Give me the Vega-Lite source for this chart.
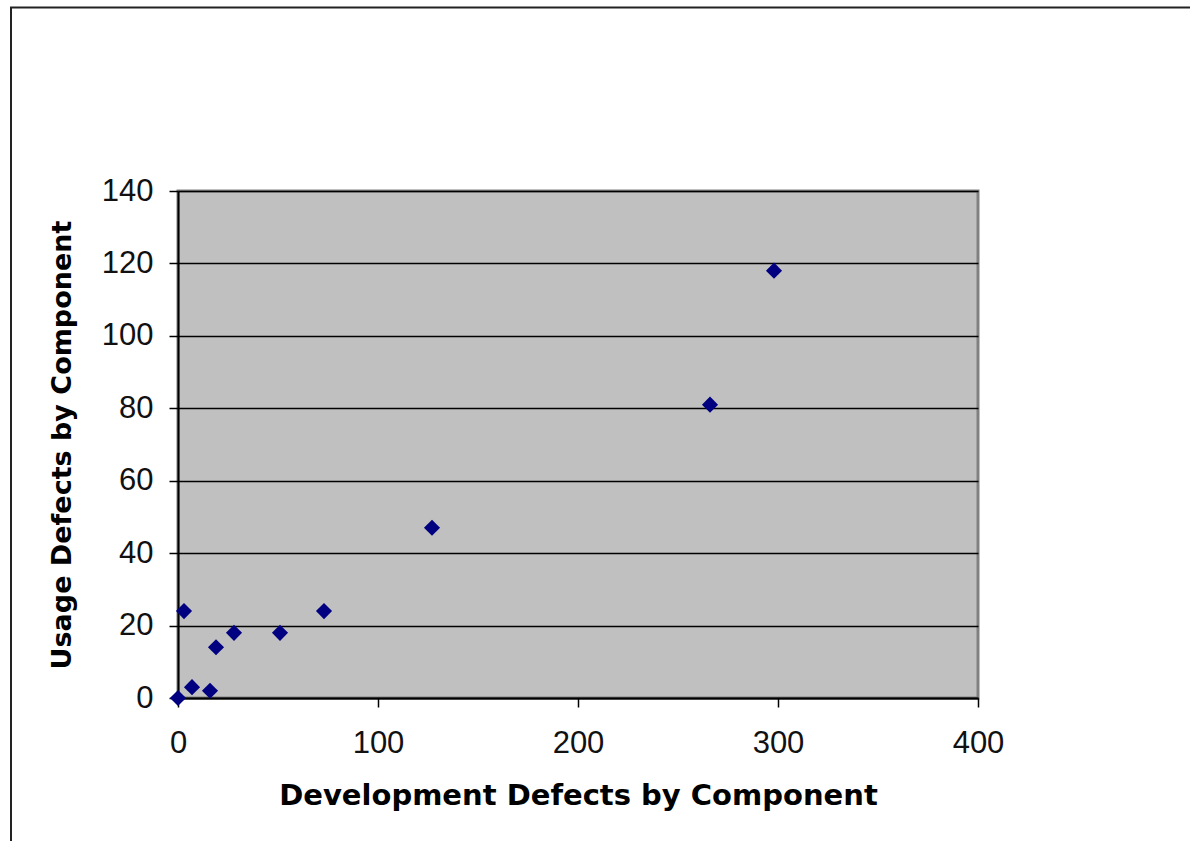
{
  "$schema": "https://vega.github.io/schema/vega-lite/v6.json",
  "autosize": {"type": "none"},
  "width": 800,
  "height": 507,
  "padding": {"left": 178, "top": 191, "right": 212, "bottom": 143},
  "background": "white",
  "config": {
    "view": {"fill": "#c0c0c0", "stroke": "#808080", "strokeWidth": 3},
    "axis": {
      "labelFont": "Liberation Sans",
      "labelFontSize": 31,
      "labelColor": "#111111",
      "titleFont": "DejaVu Sans",
      "titleFontWeight": "bold",
      "titleColor": "#000000",
      "domainColor": "#000000",
      "domainWidth": 2,
      "tickColor": "#000000",
      "tickWidth": 1.5,
      "tickSize": 9
    }
  },
  "datasets": {
    "defects": [
      {"dev": 0, "usage": 0},
      {"dev": 3, "usage": 24},
      {"dev": 7, "usage": 3},
      {"dev": 16, "usage": 2},
      {"dev": 19, "usage": 14},
      {"dev": 28, "usage": 18},
      {"dev": 51, "usage": 18},
      {"dev": 73, "usage": 24},
      {"dev": 127, "usage": 47},
      {"dev": 266, "usage": 81},
      {"dev": 298, "usage": 118}
    ],
    "frame": [
      {"x1": -83.5, "x2": 650, "y1": 190.7, "y2": -150}
    ]
  },
  "layer": [
    {
      "data": {"name": "frame"},
      "mark": {"type": "rect", "fill": null, "stroke": "#222222", "strokeWidth": 2, "clip": false},
      "encoding": {
        "x": {"field": "x1", "type": "quantitative", "scale": {"domain": [0, 400], "nice": false, "zero": false}},
        "x2": {"field": "x2"},
        "y": {"field": "y1", "type": "quantitative", "scale": {"domain": [0, 140], "nice": false, "zero": false}},
        "y2": {"field": "y2"}
      }
    },
    {
      "data": {"name": "defects"},
      "mark": {"type": "point", "shape": "diamond", "filled": true, "color": "#000080", "size": 260, "opacity": 1},
      "encoding": {
        "x": {
          "field": "dev",
          "type": "quantitative",
          "scale": {"domain": [0, 400], "nice": false, "zero": false},
          "axis": {
            "title": "Development Defects by Component",
            "titleFontSize": 29,
            "titlePadding": 23,
            "values": [0, 100, 200, 300, 400],
            "grid": false,
            "labelPadding": 21,
            "labelFlush": false
          }
        },
        "y": {
          "field": "usage",
          "type": "quantitative",
          "scale": {"domain": [0, 140], "nice": false, "zero": false},
          "axis": {
            "title": "Usage Defects by Component",
            "titleFontSize": 27,
            "titlePadding": 25,
            "values": [0, 20, 40, 60, 80, 100, 120, 140],
            "grid": true,
            "gridColor": "#000000",
            "gridWidth": 1.5,
            "labelPadding": 16,
            "labelFlush": false
          }
        }
      }
    }
  ]
}
